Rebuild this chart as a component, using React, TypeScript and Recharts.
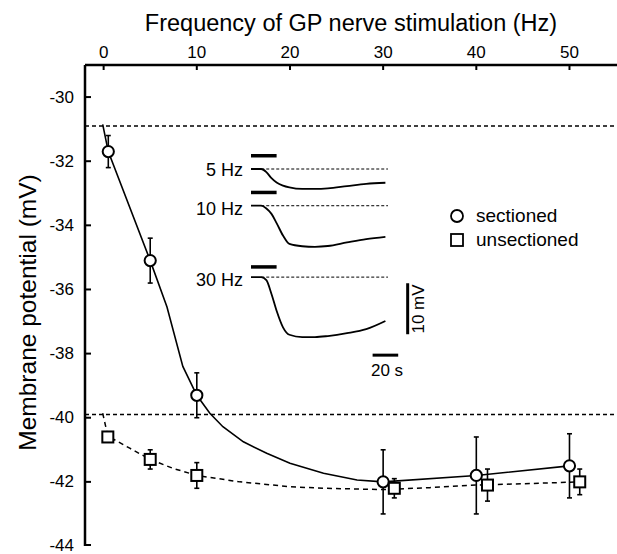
import React from 'react';
import {
  ComposedChart, LineChart, Line, Scatter, XAxis, YAxis,
  ReferenceLine, ErrorBar
} from 'recharts';

const FONT = '"Liberation Sans", Arial, sans-serif';

// main plot: stimulation frequency (Hz) vs membrane potential (mV)
const freqTicks = [0, 10, 20, 30, 40, 50];
const mvTicks = [-30, -32, -34, -36, -38, -40, -42, -44];

const secFreq = [0.5, 5, 10, 30, 40, 50];
const secMv = [-31.7, -35.1, -39.3, -42.0, -41.8, -41.5];
const secErr = [0.5, 0.7, 0.7, 1.0, 1.2, 1.0];

const unsecFreq = [0.45, 5, 10, 31.2, 41.2, 51.1];
const unsecMv = [-40.6, -41.3, -41.8, -42.2, -42.1, -42.0];
const unsecErr = [0, 0.3, 0.4, 0.3, 0.5, 0.4];

// fitted curves
const secFitFreq = [-0.1, 0.5, 5, 6.8, 8.5, 10, 11.4, 12.8, 15, 17.5, 20, 23.6, 27.2, 30, 40, 50];
const secFitMv = [-30.85, -31.7, -35.1, -36.55, -38.4, -39.3, -39.86, -40.28, -40.75, -41.11, -41.42, -41.73, -41.94, -42.0, -41.8, -41.5];
const unsecFitFreq = [-0.1, 0.45, 2.8, 5, 7.45, 10, 14.6, 20, 23.6, 30, 35, 40, 46, 51.1];
const unsecFitMv = [-39.86, -40.57, -40.95, -41.3, -41.58, -41.8, -42.0, -42.15, -42.2, -42.24, -42.18, -42.1, -42.05, -42.0];

// resting levels (dashed lines)
const restSectioned = -30.9;
const restUnsectioned = -39.9;

// inset traces: time (s) vs change of potential (mV)
const traceTime = [0, 8, 12, 16, 20, 25, 30, 40, 50, 60, 75, 90, 105];
const trace5 = [0, 0, -0.6, -1.8, -2.65, -3.25, -3.6, -3.9, -3.9, -3.8, -3.35, -2.9, -2.7];
const trace10 = [0, 0, -0.55, -1.6, -3.4, -5.85, -7.5, -7.95, -8.05, -7.9, -7.2, -6.55, -6.1];
const trace30 = [0, 0, -0.6, -3.3, -6.6, -9.85, -11.3, -11.75, -11.75, -11.55, -11.0, -10.2, -8.6];
const traceLabels = ['5 Hz', '10 Hz', '30 Hz'];
const traceOffset = [0, -7.2, -21.2];
const stimLevel = [2.6, 2.6, 2.0];
const stimDuration = 20;
const baselineStart = 8;
const baselineEnd = 107;

const toPoints = (xs: number[], ys: number[], errs?: number[]) =>
  xs.map((x, i) => ({ x, y: ys[i], err: errs ? errs[i] : 0 }));

const secData = toPoints(secFreq, secMv, secErr);
const unsecData = toPoints(unsecFreq, unsecMv, unsecErr);
const secFit = toPoints(secFitFreq, secFitMv);
const unsecFit = toPoints(unsecFitFreq, unsecFitMv);

const insetData = traceTime.map((t, i) => ({
  t,
  a: trace5[i] + traceOffset[0],
  b: trace10[i] + traceOffset[1],
  c: trace30[i] + traceOffset[2],
}));

const Circle = (props: any) => {
  const { cx, cy } = props;
  if (cx == null || cy == null) return null;
  return <circle cx={cx} cy={cy} r={5.6} fill="#fff" stroke="#000" strokeWidth={2} />;
};

const Square = (props: any) => {
  const { cx, cy } = props;
  if (cx == null || cy == null) return null;
  return <rect x={cx - 5.5} y={cy - 5.5} width={11} height={11} fill="#fff" stroke="#000" strokeWidth={2} />;
};

// ticks point inward, so draw the mark together with the label
const XTick = (props: any) => {
  const { x, y, payload } = props;
  return (
    <g>
      <line x1={x} y1={y + 7} x2={x} y2={y + 12} stroke="#000" strokeWidth={2} />
      <text x={x} y={y} textAnchor="middle" fill="#000" fontSize={17} fontFamily={FONT}>{payload.value}</text>
    </g>
  );
};

const YTick = (props: any) => {
  const { x, y, payload } = props;
  return (
    <g>
      <line x1={x + 11} y1={y} x2={x + 17} y2={y} stroke="#000" strokeWidth={2} />
      <text x={x} y={y} textAnchor="end" dominantBaseline="central" fill="#000" fontSize={17} fontFamily={FONT}>{payload.value}</text>
    </g>
  );
};

export default function App() {
  return (
    <div style={{ position: 'absolute', left: 0, top: 0, width: 617, height: 554, background: '#fff', fontFamily: FONT }}>
      <ComposedChart width={617} height={554} margin={{ top: 0, right: 0, bottom: 8, left: 0 }}>
        <XAxis
          dataKey="x"
          type="number"
          orientation="top"
          domain={[-2, 55.1]}
          ticks={freqTicks}
          height={65}
          allowDataOverflow
          axisLine={{ stroke: '#000', strokeWidth: 2.5 }}
          tickLine={false}
          tickSize={0}
          tickMargin={7}
          tick={XTick}
          label={{ value: 'Frequency of GP nerve stimulation (Hz)', position: 'insideTop', offset: 14, fill: '#000', fontSize: 23.5, fontFamily: FONT }}
        />
        <YAxis
          type="number"
          domain={[-44, -29]}
          ticks={mvTicks}
          width={85}
          allowDataOverflow
          axisLine={{ stroke: '#000', strokeWidth: 2.5 }}
          tickLine={false}
          tickSize={0}
          tickMargin={11}
          tick={YTick}
          label={{ value: 'Membrane potential (mV)', angle: -90, position: 'center', dx: -15.5, dy: 7, fill: '#000', fontSize: 24.5, fontFamily: FONT }}
        />
        <ReferenceLine y={restSectioned} stroke="#000" strokeWidth={1.5} strokeDasharray="4 3" />
        <ReferenceLine y={restUnsectioned} stroke="#000" strokeWidth={1.5} strokeDasharray="4 3" />
        <Line data={unsecFit} dataKey="y" type="linear" stroke="#000" strokeWidth={1.5} strokeDasharray="5 4" dot={false} activeDot={false} isAnimationActive={false} />
        <Line data={secFit} dataKey="y" type="linear" stroke="#000" strokeWidth={1.6} dot={false} activeDot={false} isAnimationActive={false} />
        <Scatter data={secData} dataKey="y" shape={Circle} isAnimationActive={false}>
          <ErrorBar dataKey="err" direction="y" width={2.5} stroke="#000" strokeWidth={1.6} />
        </Scatter>
        <Scatter data={unsecData} dataKey="y" shape={Square} isAnimationActive={false}>
          <ErrorBar dataKey="err" direction="y" width={2.5} stroke="#000" strokeWidth={1.6} />
        </Scatter>
      </ComposedChart>

      {/* inset: example recordings */}
      <div style={{ position: 'absolute', left: 190, top: 140 }}>
        <LineChart width={261} height={248} data={insetData} margin={{ top: 8.6, right: 40, bottom: 25.2, left: 61 }}>
          <XAxis dataKey="t" type="number" domain={[0, 125]} hide />
          <YAxis type="number" domain={[-38, 4]} hide />
          {traceOffset.map((off, i) => (
            <ReferenceLine key={'base' + i} segment={[{ x: baselineStart, y: off }, { x: baselineEnd, y: off }]} stroke="#000" strokeWidth={1} strokeDasharray="3 2" />
          ))}
          {traceOffset.map((off, i) => (
            <ReferenceLine key={'stim' + i} segment={[{ x: 0, y: off + stimLevel[i] }, { x: stimDuration, y: off + stimLevel[i] }]} stroke="#000" strokeWidth={3.5} />
          ))}
          <ReferenceLine segment={[{ x: 122.4, y: -22.4 }, { x: 122.4, y: -32.4 }]} stroke="#000" strokeWidth={3} />
          <ReferenceLine segment={[{ x: 95, y: -36.5 }, { x: 115, y: -36.5 }]} stroke="#000" strokeWidth={3} />
          <Line dataKey="a" type="monotone" stroke="#000" strokeWidth={1.8} dot={false} activeDot={false} isAnimationActive={false} />
          <Line dataKey="b" type="monotone" stroke="#000" strokeWidth={1.8} dot={false} activeDot={false} isAnimationActive={false} />
          <Line dataKey="c" type="monotone" stroke="#000" strokeWidth={1.8} dot={false} activeDot={false} isAnimationActive={false} />
        </LineChart>
      </div>

      {/* inset labels */}
      <svg width={617} height={554} style={{ position: 'absolute', left: 0, top: 0, pointerEvents: 'none' }} fontFamily={FONT}>
        {traceLabels.map((lab, i) => (
          <text key={lab} x={243} y={[170, 208.5, 279.5][i]} textAnchor="end" dominantBaseline="central" fontSize={18}>{lab}</text>
        ))}
        <text x={387} y={370} textAnchor="middle" dominantBaseline="central" fontSize={17}>20 s</text>
        <text x={418} y={309} textAnchor="middle" dominantBaseline="central" fontSize={17} transform="rotate(-90 418 309)">10 mV</text>
      </svg>

      {/* legend */}
      <div style={{ position: 'absolute', left: 448, top: 204, fontSize: 19, lineHeight: '24px', color: '#000' }}>
        <div style={{ display: 'flex', alignItems: 'center' }}>
          <svg width={18} height={18} style={{ marginRight: 10 }}>
            <circle cx={9} cy={9} r={6} fill="#fff" stroke="#000" strokeWidth={1.8} />
          </svg>
          <span>sectioned</span>
        </div>
        <div style={{ display: 'flex', alignItems: 'center' }}>
          <svg width={18} height={18} style={{ marginRight: 10 }}>
            <rect x={3} y={3} width={12} height={12} fill="#fff" stroke="#000" strokeWidth={1.8} />
          </svg>
          <span>unsectioned</span>
        </div>
      </div>
    </div>
  );
}
